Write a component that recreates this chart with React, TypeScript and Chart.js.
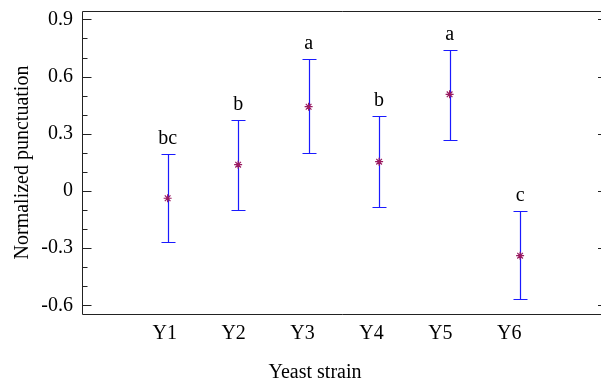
import React, { useEffect, useRef } from "react";
import { Chart, registerables } from "chart.js";

Chart.register(...registerables);

const strains = ["Y1", "Y2", "Y3", "Y4", "Y5", "Y6"];
const means = [-0.038, 0.138, 0.442, 0.154, 0.507, -0.339];
const upper = [0.194, 0.372, 0.69, 0.395, 0.741, -0.105];
const lower = [-0.269, -0.1, 0.199, -0.084, 0.267, -0.566];
const groups = ["bc", "b", "a", "b", "a", "c"];
const yMajorTicks = [-0.6, -0.3, 0, 0.3, 0.6, 0.9];
const yMinorTicks = [-0.5, -0.4, -0.2, -0.1, 0.1, 0.2, 0.4, 0.5, 0.7, 0.8];

const FONT = "'Liberation Serif', 'Times New Roman', serif";

const zeroPad = (s: any) => {
  s.paddingTop = 0;
  s.paddingBottom = 0;
  s.paddingLeft = 0;
  s.paddingRight = 0;
};

const overlay = {
  id: "overlay",
  beforeDatasetsDraw(chart: any) {
    const { ctx, chartArea } = chart;
    const xs = chart.scales.x;
    const ys = chart.scales.y;
    const L = Math.round(chartArea.left) + 0.5;
    const T = Math.round(chartArea.top) + 0.5;
    const B = Math.round(chartArea.bottom) + 0.5;
    const R = chart.width + 6; // frame's right side lies just beyond the canvas
    ctx.save();
    ctx.strokeStyle = "#222";
    ctx.lineWidth = 1;
    ctx.beginPath();
    ctx.moveTo(R, T);
    ctx.lineTo(L, T);
    ctx.lineTo(L, B);
    ctx.lineTo(R, B);
    ctx.stroke();
    const drawTick = (v: number, len: number) => {
      const y = Math.round(ys.getPixelForValue(v)) + 0.5;
      ctx.beginPath();
      ctx.moveTo(L, y);
      ctx.lineTo(L + len, y);
      ctx.moveTo(R, y);
      ctx.lineTo(R - len, y);
      ctx.stroke();
    };
    yMajorTicks.forEach((v) => drawTick(v, 9));
    yMinorTicks.forEach((v) => drawTick(v, 5));
    // error bars
    ctx.strokeStyle = "#1a1aff";
    ctx.lineWidth = 1.2;
    strains.forEach((_, i) => {
      const x = Math.round(xs.getPixelForValue(i + 1)) + 0.5;
      const yt = Math.round(ys.getPixelForValue(upper[i])) + 0.5;
      const yb = Math.round(ys.getPixelForValue(lower[i])) + 0.5;
      ctx.beginPath();
      ctx.moveTo(x, yt);
      ctx.lineTo(x, yb);
      ctx.moveTo(x - 7, yt);
      ctx.lineTo(x + 7, yt);
      ctx.moveTo(x - 7, yb);
      ctx.lineTo(x + 7, yb);
      ctx.stroke();
    });
    // group letters
    ctx.fillStyle = "#000";
    ctx.font = `20px ${FONT}`;
    ctx.textAlign = "center";
    ctx.textBaseline = "alphabetic";
    strains.forEach((_, i) => {
      const x = xs.getPixelForValue(i + 1);
      const yt = ys.getPixelForValue(upper[i]);
      ctx.fillText(groups[i], x, yt - 10);
    });
    // axis titles
    ctx.fillText("Yeast strain", 315, 378);
    ctx.translate(28, (chartArea.top + chartArea.bottom) / 2);
    ctx.rotate(-Math.PI / 2);
    ctx.fillText("Normalized punctuation", 0, 0);
    ctx.restore();
  },
};

export default function App() {
  const ref = useRef<HTMLCanvasElement | null>(null);
  useEffect(() => {
    if (!ref.current) return;
    const chart = new Chart(ref.current, {
      type: "scatter",
      data: {
        datasets: [
          {
            data: means.map((m, i) => ({ x: i + 1, y: m })),
            pointStyle: "star",
            radius: 4,
            borderColor: "#9a1a60",
            backgroundColor: "#9a1a60",
            borderWidth: 1.2,
          },
        ],
      },
      options: {
        animation: false,
        responsive: false,
        devicePixelRatio: 1,
        layout: { padding: { top: 11, right: 0, left: 0, bottom: 0 } },
        plugins: { legend: { display: false }, tooltip: { enabled: false } },
        scales: {
          x: {
            type: "linear",
            min: -0.215,
            max: 7.074,
            display: false,
          },
          x2: {
            type: "linear",
            position: "bottom",
            min: -0.2,
            max: 7.255,
            afterBuildTicks: (s: any) => {
              s.ticks = strains.map((_, i) => ({ value: i + 1 }));
            },
            ticks: {
              autoSkip: false,
              maxRotation: 0,
              padding: 8,
              color: "#000",
              font: { family: FONT, size: 20 },
              callback: (v: any) => strains[Number(v) - 1] ?? "",
            },
            grid: { display: false, drawTicks: false },
            border: { display: false },
            afterFit: (s: any) => {
              s.height = 69;
              zeroPad(s);
            },
          },
          y: {
            type: "linear",
            min: -0.645,
            max: 0.944,
            afterBuildTicks: (s: any) => {
              s.ticks = yMajorTicks.map((v) => ({ value: v }));
            },
            ticks: {
              padding: 9,
              color: "#000",
              font: { family: FONT, size: 20 },
              callback: (v: any) => String(Number(Number(v).toFixed(1))),
            },
            grid: { display: false, drawTicks: false },
            border: { display: false },
            afterFit: (s: any) => {
              s.width = 82;
              zeroPad(s);
            },
          },
        },
      },
      plugins: [overlay],
    });
    return () => chart.destroy();
  }, []);
  return (
    <div style={{ position: "fixed", left: 0, top: 0, width: 601, height: 383, overflow: "hidden", background: "#fff" }}>
      <canvas ref={ref} width={601} height={383} style={{ width: 601, height: 383, display: "block" }} />
    </div>
  );
}
